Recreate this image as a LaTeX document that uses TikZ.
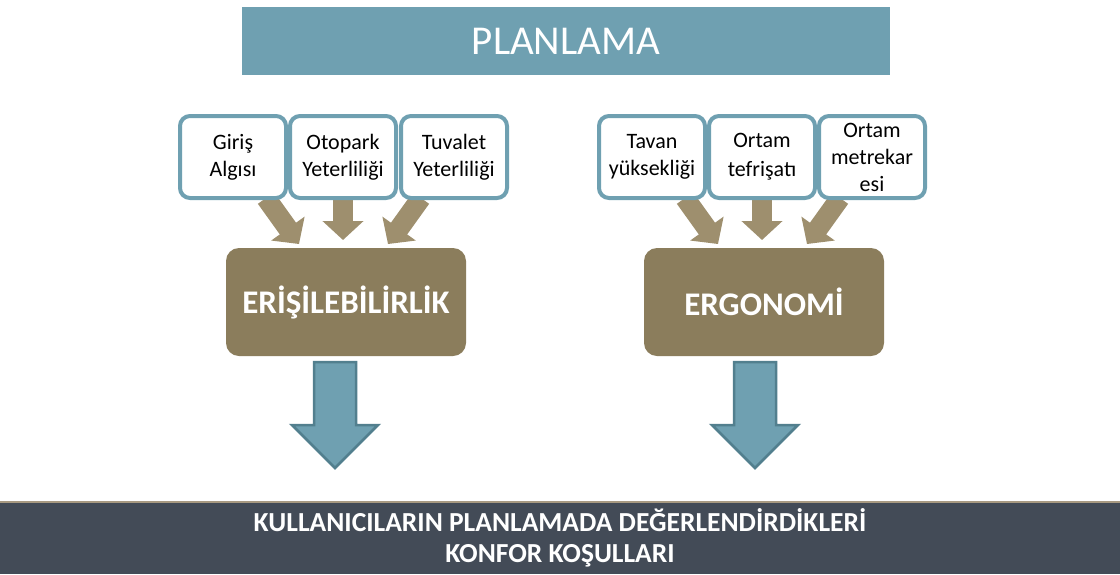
\documentclass[tikz,border=0pt]{standalone}
\usepackage{fontspec}
\setmainfont{Carlito}
\usetikzlibrary{arrows.meta,calc}
\definecolor{teal1}{HTML}{6FA0B1}
\definecolor{teal2}{HTML}{527F8E}
\definecolor{brown1}{HTML}{8B7D5C}
\definecolor{brown2}{HTML}{9E8F6E}
\definecolor{slate}{HTML}{434B57}
\definecolor{tanline}{HTML}{A89A82}
\tikzset{
  topbar/.style={fill=teal1, draw=none, minimum width=648pt, minimum height=68pt, inner sep=0pt,
    text=white, font=\fontsize{41}{44}\selectfont},
  smallbox/.style={draw=teal1, line width=4pt, fill=white, rounded corners=10pt,
    minimum width=106pt, minimum height=82pt, inner sep=0pt, align=center,
    font=\fontsize{22}{27}\selectfont, text=black},
  bigbox/.style={fill=brown1, rounded corners=13pt, minimum width=240pt, minimum height=108pt,
    inner sep=0pt, text=white, font=\bfseries\fontsize{33}{36}\selectfont},
  brownarrow/.style={draw=brown2, line width=20pt, -{Triangle[width=40pt,length=19pt]}},
  bluearrow/.style={fill=teal1, draw=teal2, line width=2.5pt, line join=miter},
  bottombar/.style={fill=slate, draw=none, minimum width=1120pt, minimum height=72pt, inner sep=0pt,
    align=center, text=white, font=\bfseries\fontsize{27.5}{31}\selectfont},
}
\begin{document}
\begin{tikzpicture}[x=1pt,y=-1pt]
\useasboundingbox (0,0) rectangle (1120,574);
\fill[white] (0,0) rectangle (1120,574);
\node[topbar] (plan) at (566,41) {PLANLAMA};
\node[bottombar] (bot) at (560,538) {KULLANICILARIN PLANLAMADA DEĞERLENDİRDİKLERİ\\KONFOR KOŞULLARI};
\draw[tanline, line width=2pt] (bot.north west) -- (bot.north east);
% big boxes
\node[bigbox] (e1) at (346,302) {ERİŞİLEBİLİRLİK};
\node[bigbox] (e2) at (764,302) {ERGONOMİ};
% brown arrows (behind small boxes)
\coordinate (s1) at (266,198); \coordinate (t1) at (299,244);
\coordinate (s2) at (343,198); \coordinate (t2) at (343,240);
\coordinate (s3) at (421,198); \coordinate (t3) at (388,244);
\coordinate (s4) at (685,198); \coordinate (t4) at (718,244);
\coordinate (s5) at (762,198); \coordinate (t5) at (762,240);
\coordinate (s6) at (840,198); \coordinate (t6) at (807,244);
\foreach \i in {1,...,6} {\draw[brownarrow] (s\i) -- (t\i);}
% small boxes
\node[smallbox] (b1) at (233,157) {Giriş\\Algısı};
\node[smallbox] (b2) at (343,157) {Otopark\\Yeterliliği};
\node[smallbox] (b3) at (454,157) {Tuvalet\\Yeterliliği};
\node[smallbox] (b4) at (652,157) {Tavan\\yüksekliği};
\node[smallbox] (b5) at (762,157) {Ortam\\[2pt]tefrişatı};
\node[smallbox] (b6) at (872,157) {Ortam\\metrekar\\esi};
% blue arrows
\coordinate (d1) at (335,362);
\coordinate (d2) at (755,362);
\foreach \n in {d1, d2} {
  \draw[bluearrow] ($(\n)+(-21,0)$) -- ++(42,0) -- ++(0,63) -- ++(22,0)
     -- ++(-43,43) -- ++(-43,-43) -- ++(22,0) -- cycle;
}
\end{tikzpicture}
\end{document}
